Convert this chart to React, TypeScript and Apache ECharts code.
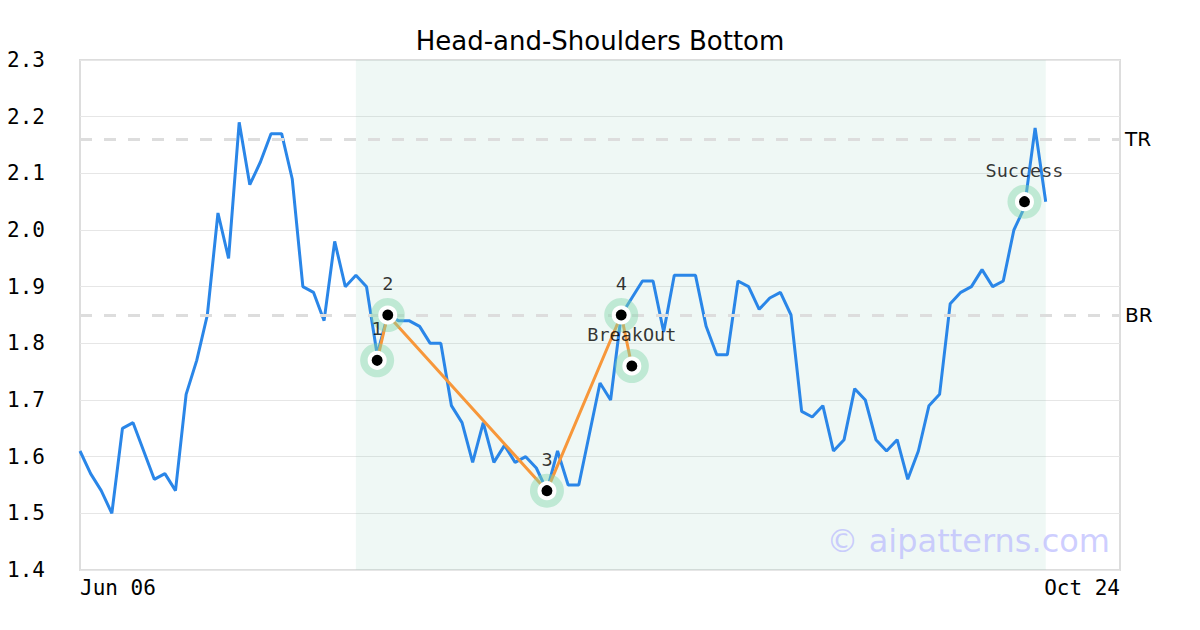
import React, { useEffect, useRef } from "react";
import * as echarts from "echarts";

const xTickLabels = ["Jun 06", "Oct 24"];
const xCount = 99;
const prices = [
  1.61, 1.57, 1.54, 1.5, 1.65, 1.66, 1.61, 1.56, 1.57, 1.54,
  1.71, 1.77, 1.85, 2.03, 1.95, 2.19, 2.08, 2.12, 2.17, 2.17,
  2.09, 1.9, 1.89, 1.84, 1.98, 1.9, 1.92, 1.9, 1.78, 1.85,
  1.84, 1.84, 1.83, 1.8, 1.8, 1.69, 1.66, 1.59, 1.66, 1.59,
  1.62, 1.59, 1.6, 1.58, 1.54, 1.61, 1.55, 1.55, 1.64, 1.73,
  1.7, 1.85, 1.88, 1.91, 1.91, 1.82, 1.92, 1.92, 1.92, 1.83,
  1.78, 1.78, 1.91, 1.9, 1.86, 1.88, 1.89, 1.85, 1.68, 1.67,
  1.69, 1.61, 1.63, 1.72, 1.7, 1.63, 1.61, 1.63, 1.56, 1.61,
  1.69, 1.71, 1.87, 1.89, 1.9, 1.93, 1.9, 1.91, 2.0, 2.04,
  2.18, 2.05,
];
const patternLabels = ["1", "2", "3", "4", "BreakOut"];
const patternIdx = [28, 29, 44, 51, 52];
const patternVals = [1.77, 1.85, 1.54, 1.85, 1.76];
const successIdx = 89;
const successVal = 2.05;
const trLevel = 2.16;
const brLevel = 1.85;
const zoneStart = 26;
const zoneEnd = 91;

export default function App() {
  const ref = useRef<HTMLDivElement>(null);
  useEffect(() => {
    if (!ref.current) return;
    const chart = echarts.init(ref.current, null, { renderer: "svg" });
    const priceData = prices.map((v, i) => [i, v]);
    const patternData = patternIdx.map((x, i) => ({ value: [x, patternVals[i]], name: patternLabels[i] }));
    const markerData = [...patternData, { value: [successIdx, successVal], name: "Success" }];
    const mono = "DejaVu Sans Mono";
    chart.setOption({
      animation: false,
      backgroundColor: "#fff",
      title: {
        text: "Head-and-Shoulders Bottom",
        left: "center",
        top: 23,
        textStyle: { fontFamily: "DejaVu Sans", fontSize: 26, fontWeight: "normal", color: "#000" },
      },
      grid: { left: 80, right: 80, top: 60, bottom: 60, show: true, borderColor: "#ddd", borderWidth: 2 },
      xAxis: {
        type: "value",
        min: 0,
        max: xCount - 1,
        interval: xCount - 1,
        axisLine: { show: false },
        axisTick: { show: false },
        splitLine: { show: false },
        axisLabel: {
          fontFamily: mono,
          fontSize: 21,
          color: "#000",
          margin: 7,
          alignMinLabel: "left",
          alignMaxLabel: "right",
          formatter: (v: number) => (v === 0 ? xTickLabels[0] : v === xCount - 1 ? xTickLabels[1] : ""),
        },
      },
      yAxis: {
        type: "value",
        min: 1.4,
        max: 2.3,
        interval: 0.1,
        axisLine: { show: false },
        axisTick: { show: false },
        splitLine: { lineStyle: { color: "#e6e6e6", width: 1 } },
        axisLabel: {
          fontFamily: mono,
          fontSize: 21,
          color: "#000",
          margin: 35,
          formatter: (v: number) => v.toFixed(1),
        },
      },
      graphic: [
        {
          type: "text",
          right: 90,
          top: 525,
          z: 100,
          style: {
            text: "© aipatterns.com",
            fontFamily: "DejaVu Sans",
            fontSize: 32,
            fill: "rgba(185,185,255,0.7)",
          },
        },
      ],
      series: [
        {
          type: "line",
          data: priceData,
          showSymbol: false,
          symbol: "none",
          lineStyle: { color: "#2a86e8", width: 3 },
          z: 3,
          markArea: {
            silent: true,
            itemStyle: { color: "rgba(150,210,185,0.15)" },
            data: [[{ xAxis: zoneStart }, { xAxis: zoneEnd }]],
          },
          markLine: {
            silent: true,
            symbol: "none",
            lineStyle: { color: "#dddddd", width: 3, type: [12, 12] },
            label: {
              position: "end",
              fontFamily: "DejaVu Sans",
              fontSize: 20,
              color: "#000",
              distance: 5,
            },
            data: [
              { yAxis: trLevel, label: { formatter: "TR" } },
              { yAxis: brLevel, label: { formatter: "BR" } },
            ],
          },
        },
        {
          type: "line",
          data: patternData.map((d) => d.value),
          showSymbol: false,
          symbol: "none",
          lineStyle: { color: "#f7973a", width: 3 },
          z: 4,
        },
        {
          type: "scatter",
          data: markerData,
          symbolSize: 34,
          itemStyle: { color: "rgba(130,215,170,0.55)" },
          z: 5,
          label: {
            show: true,
            position: "top",
            distance: 5,
            formatter: (p: any) => p.name,
            fontFamily: mono,
            fontSize: 18.5,
            color: "#000",
          },
        },
        {
          type: "scatter",
          data: markerData.map((d) => d.value),
          symbolSize: 15,
          itemStyle: { color: "#000", borderColor: "#fff", borderWidth: 4, opacity: 1 },
          z: 6,
        },
      ],
    });
    return () => chart.dispose();
  }, []);
  return <div ref={ref} style={{ width: 1200, height: 630, position: "absolute", left: 0, top: 0 }} />;
}
